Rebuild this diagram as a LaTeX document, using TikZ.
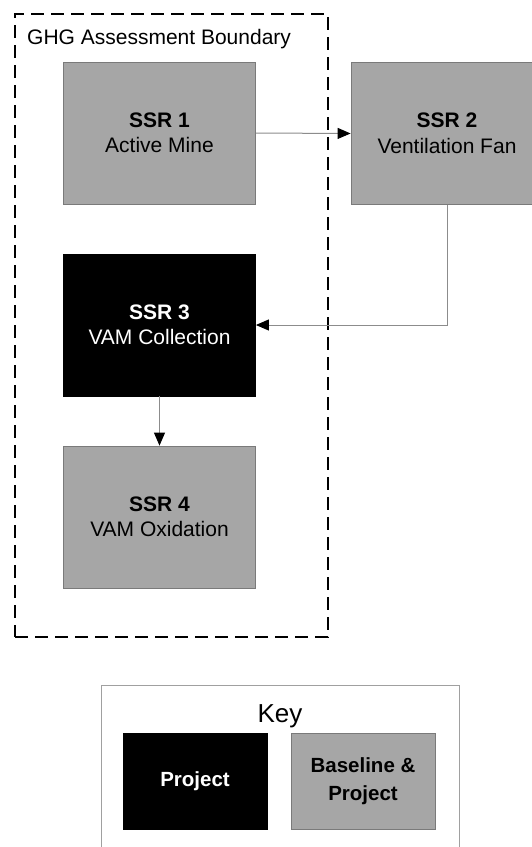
\documentclass[tikz,border=0pt]{standalone}
\usepackage{fontspec}
\setmainfont{Liberation Sans}
\usetikzlibrary{arrows.meta}
\definecolor{boxgray}{HTML}{A6A6A6}
\definecolor{edgegray}{HTML}{7A7A7A}
\definecolor{linegray}{HTML}{8C8C8C}
\definecolor{keygray}{HTML}{A0A0A0}
\begin{document}
\begin{tikzpicture}[x=1pt,y=-1pt,
  ssrbox/.style={draw=edgegray, line width=0.8pt, fill=boxgray, minimum width=192pt, minimum height=142pt, inner sep=0pt, align=center, font=\fontsize{21}{25.5}\selectfont},
  projbox/.style={ssrbox, fill=black, draw=black, text=white},
  keyitem/.style={draw=edgegray, line width=0.8pt, minimum width=144pt, minimum height=96pt, inner sep=0pt, align=center, font=\fontsize{20.5}{28}\selectfont\bfseries},
  conn/.style={draw=linegray, line width=1pt, -{Triangle[length=13pt,width=11pt,color=black]}},
  boundary/.style={draw=black, line width=2pt, dash pattern=on 13pt off 7pt, minimum width=312.5pt, minimum height=623.5pt, inner sep=0pt},
]
\useasboundingbox (0,0) rectangle (532,847);
\clip (0,0) rectangle (532,847);
\fill[white] (0,0) rectangle (532,847);

% assessment boundary
\node[boundary] (bnd) at (171.25,325.25) {};
\node[anchor=base west, inner sep=0pt, font=\fontsize{21}{25}\selectfont] (bndlabel) at (27,44) {GHG Assessment Boundary};

% SSR boxes
\node[ssrbox] (ssr1) at (159.5,133) {\textbf{SSR 1}\\Active Mine};
\node[ssrbox] (ssr2) at (447,133.5) {\textbf{SSR 2}\\Ventilation Fan};
\node[projbox] (ssr3) at (159.5,325) {\textbf{SSR 3}\\VAM Collection};
\node[ssrbox] (ssr4) at (159.5,517) {\textbf{SSR 4}\\VAM Oxidation};

% connectors
\draw[conn] (ssr1.east) -- (ssr2.west);
\draw[conn] (ssr2.south) |- (ssr3.east);
\draw[conn] (ssr3.south) -- (ssr4.north);

% key
\node[draw=keygray, line width=1pt, minimum width=358pt, minimum height=230pt, inner sep=0pt] (keyframe) at (280,800) {};
\node[anchor=base, inner sep=0pt, font=\fontsize{26}{30}\selectfont] (keytitle) at (280,722) {Key};
\node[keyitem, fill=black, draw=black, text=white] (keyproj) at (195,781) {Project};
\node[keyitem, fill=boxgray] (keybase) at (363,781) {Baseline \&\\Project};
\end{tikzpicture}
\end{document}
